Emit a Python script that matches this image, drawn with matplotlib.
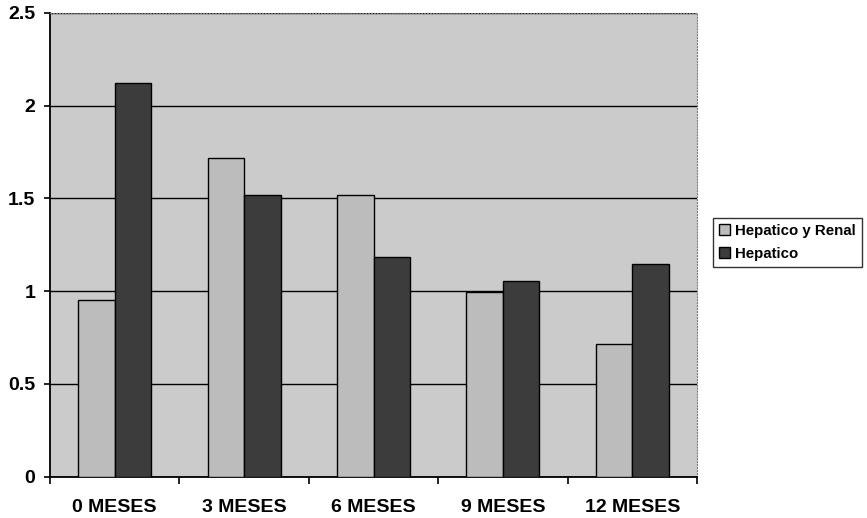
import matplotlib.pyplot as plt
import numpy as np

# ============================================================
# Data
# ============================================================

categories = ["0 MESES", "3 MESES", "6 MESES", "9 MESES", "12 MESES"]

hepatico_renal = [0.95, 1.72, 1.52, 0.995, 0.715]
hepatico = [2.12, 1.52, 1.185, 1.055, 1.147]

series_names = ["Hepatico y Renal", "Hepatico"]

# ============================================================
# Figure
# ============================================================

plt.rcParams["font.family"] = ["Liberation Sans", "DejaVu Sans"]
plt.rcParams["font.weight"] = "bold"

fig = plt.figure(figsize=(8.67, 5.18), dpi=100)
ax = fig.add_axes([0.0577, 0.080, 0.7463, 0.895])

ax.set_facecolor("#cbcbcb")

x = np.arange(len(categories))
width = 0.282

ax.bar(x - width / 2, hepatico_renal, width, color="#bcbcbc",
       edgecolor="black", linewidth=1.0, label=series_names[0], zorder=3)
ax.bar(x + width / 2, hepatico, width, color="#3c3c3c",
       edgecolor="black", linewidth=1.0, label=series_names[1], zorder=3)

ax.set_ylim(0, 2.5)
ax.set_xlim(-0.5, len(categories) - 0.5)
ax.set_yticks([0, 0.5, 1, 1.5, 2, 2.5])
ax.set_yticklabels(["0", "0.5", "1", "1.5", "2", "2.5"])

ax.yaxis.grid(True, color="black", linewidth=1.0, zorder=1)
ax.set_axisbelow(True)

# category labels centred, ticks at the boundaries
ax.set_xticks(x)
ax.set_xticklabels(categories)
ax.set_xticks(np.arange(-0.5, len(categories)), minor=True)
ax.tick_params(axis="x", which="major", length=0, pad=16, labelsize=14)
ax.tick_params(axis="x", which="minor", length=5, width=1.2, direction="out")
ax.tick_params(axis="y", length=4.5, width=1.2, direction="out", pad=6, labelsize=14)

for lab in ax.get_xticklabels() + ax.get_yticklabels():
    lab.set_fontweight("bold")

ax.spines["left"].set_linewidth(1.3)
ax.spines["bottom"].set_linewidth(1.3)
ax.spines["top"].set_color("#7a7a7a")
ax.spines["top"].set_linestyle(":")
ax.spines["right"].set_color("#7a7a7a")
ax.spines["right"].set_linestyle(":")

leg = fig.legend(
    loc="upper left",
    bbox_to_anchor=(0.822, 0.579),
    fontsize=10.8,
    frameon=True,
    fancybox=False,
    handlelength=0.75,
    handleheight=0.75,
    handletextpad=0.35,
    borderpad=0.4,
    labelspacing=0.6,
    borderaxespad=0,
)
leg.get_frame().set_edgecolor("black")
leg.get_frame().set_linewidth(1.0)
for t in leg.get_texts():
    t.set_fontweight("bold")

plt.savefig("out.png", dpi=100)
plt.close()
